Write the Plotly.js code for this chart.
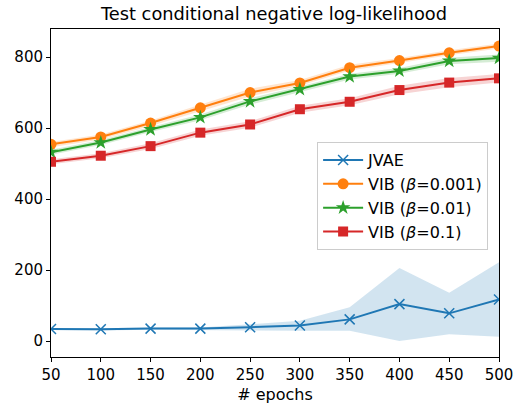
<!DOCTYPE html>
<html>
<head>
<meta charset="utf-8">
<script src="https://cdn.plot.ly/plotly-3.0.1.min.js"></script>
<style>html,body{margin:0;padding:0;background:#fff;}#chart{width:513px;height:404px;}</style>
</head>
<body>
<div id="chart"></div>
<script>
const epochs = [50, 100, 150, 200, 250, 300, 350, 400, 450, 500];

const jvaeMean  = [34, 33, 35, 35, 39, 44, 61, 104, 78, 117];
const jvaeLower = [31, 30, 32, 32, 30, 29, 29, 0, 19, 12];
const jvaeUpper = [37, 36, 38, 38, 47, 57, 95, 206, 136, 222];

const vib001Mean  = [554, 575, 614, 657, 700, 727, 770, 790, 812, 831];
const vib001Lower = [546, 568, 606, 648, 689, 719, 762, 783, 805, 824];
const vib001Upper = [561, 582, 621, 666, 711, 735, 778, 797, 819, 838];

const vib01Mean  = [532, 559, 596, 630, 675, 709, 745, 761, 789, 797];
const vib01Lower = [525, 552, 589, 622, 666, 701, 737, 753, 780, 787];
const vib01Upper = [539, 566, 603, 638, 684, 717, 753, 769, 798, 807];

const vib1Mean  = [505, 522, 549, 587, 610, 653, 674, 707, 728, 740];
const vib1Lower = [498, 515, 541, 578, 601, 643, 664, 695, 715, 728];
const vib1Upper = [512, 529, 557, 596, 619, 663, 684, 719, 741, 752];

const seriesNames = ['JVAE', 'VIB (<i>β</i>=0.001)', 'VIB (<i>β</i>=0.01)', 'VIB (<i>β</i>=0.1)'];
const colors = ['#1f77b4', '#ff7f0e', '#2ca02c', '#d62728'];
const fills = ['rgba(31,119,180,0.2)', 'rgba(255,127,14,0.2)', 'rgba(44,160,44,0.2)', 'rgba(214,39,40,0.2)'];
const symbols = ['x-thin-open', 'circle', 'star', 'square'];
const sizes = [10, 11, 11, 10];

const means = [jvaeMean, vib001Mean, vib01Mean, vib1Mean];
const lowers = [jvaeLower, vib001Lower, vib01Lower, vib1Lower];
const uppers = [jvaeUpper, vib001Upper, vib01Upper, vib1Upper];

const traces = [];
for (let i = 0; i < 4; i++) {
  traces.push({x: epochs, y: lowers[i], type: 'scatter', mode: 'lines', line: {width: 0, color: fills[i]}, showlegend: false, hoverinfo: 'skip'});
  traces.push({x: epochs, y: uppers[i], type: 'scatter', mode: 'lines', line: {width: 0, color: fills[i]}, fill: 'tonexty', fillcolor: fills[i], showlegend: false, hoverinfo: 'skip'});
}
for (let i = 0; i < 4; i++) {
  traces.push({
    x: epochs, y: means[i], type: 'scatter', mode: 'lines+markers', name: seriesNames[i],
    line: {color: colors[i], width: 2},
    marker: {symbol: symbols[i], size: sizes[i], color: colors[i], line: {color: colors[i], width: i === 0 ? 1.5 : 0}}
  });
}

const layout = {
  width: 513, height: 404,
  margin: {l: 51, r: 14, t: 29, b: 47},
  paper_bgcolor: '#fff', plot_bgcolor: '#fff',
  font: {family: 'DejaVu Sans', size: 15, color: '#000'},
  title: {text: 'Test conditional negative log-likelihood', font: {size: 17.8}, x: 0.534, xanchor: 'center', y: 0.967, yanchor: 'middle'},
  xaxis: {
    range: [50, 500], tickvals: epochs, ticks: 'outside', ticklen: 4, tickcolor: '#000',
    ticklabeloverflow: 'allow', automargin: false,
    showgrid: false, zeroline: false, showline: true, linecolor: '#000', linewidth: 1, mirror: true,
    title: {text: '# epochs', font: {size: 16}, standoff: 7}
  },
  yaxis: {
    range: [-45, 879], tickvals: [0, 200, 400, 600, 800], ticks: 'outside', ticklen: 4, tickcolor: '#000',
    showgrid: false, zeroline: false, showline: true, linecolor: '#000', linewidth: 1, mirror: true
  },
  legend: {
    x: 0.594, y: 0.655, xanchor: 'left', yanchor: 'top', traceorder: 'normal',
    bgcolor: 'rgba(255,255,255,0.8)', bordercolor: '#cccccc', borderwidth: 1,
    font: {size: 16}, tracegroupgap: 0, itemwidth: 40
  },
  showlegend: true
};

Plotly.newPlot('chart', traces, layout, {staticPlot: true, displayModeBar: false});
</script>
</body>
</html>
